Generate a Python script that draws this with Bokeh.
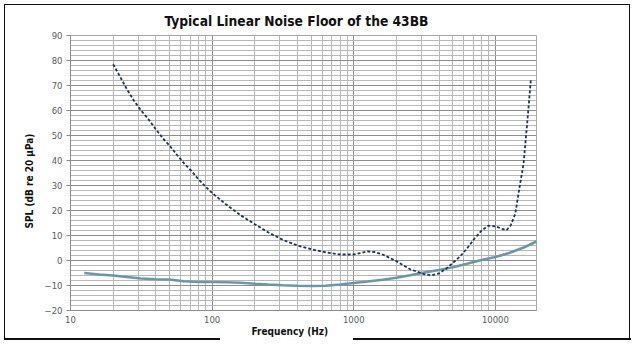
from bokeh.plotting import figure
from bokeh.models import Range1d, FixedTicker, Title, NumeralTickFormatter, InlineStyleSheet
from bokeh.embed import file_html
from bokeh.resources import INLINE

# ---- data ----
freq_dashed = [20, 22.4, 25, 28, 31.5, 35.5, 40, 45, 50, 56, 63, 71, 80, 90, 100, 125, 160, 200,
               250, 315, 400, 500, 630, 800, 1000, 1120, 1250, 1400, 1600, 2000, 2500, 3150,
               3550, 4000, 4500, 5000, 5600, 6300, 7100, 8000, 8900, 10000, 11200, 12000,
               12800, 13800, 14800, 15800, 16900, 17800]
spl_dashed = [78.5, 73.5, 68.5, 64, 60, 56.5, 52.5, 48.8, 46, 42.5, 39, 36, 32.5, 29.5, 27, 22.5,
              18, 14.5, 11.2, 8.3, 6, 4.5, 3.3, 2.4, 2.4, 3, 3.6, 3.4, 2.4, -0.3, -3.5, -5.5,
              -5.9, -5.2, -3.2, -1, 1.5, 4.8, 8.7, 12, 13.9, 13.7, 12.6, 12.2,
              14, 18.6, 29.3, 38.7, 57.3, 72.4]

freq_solid = [12.5, 16, 20, 25, 31.5, 40, 50, 63, 80, 100, 125, 160, 200, 250, 315, 400, 500,
              630, 800, 1000, 1250, 1600, 2000, 2500, 3150, 4000, 5000, 6300, 8000, 10000,
              12500, 16000, 19500]
spl_solid = [-5.0, -5.6, -6.0, -6.6, -7.2, -7.5, -7.6, -8.3, -8.6, -8.6, -8.7, -8.9, -9.3, -9.6,
             -9.9, -10.1, -10.2, -10.1, -9.6, -9.0, -8.4, -7.7, -6.9, -5.9, -4.8, -3.8, -2.7,
             -1.3, 0.2, 1.4, 3.0, 5.3, 7.6]

x_major_ticks = [10, 100, 1000, 10000]
x_minor_mult = [2, 3, 4, 5, 6, 7, 8, 9]
y_major_ticks = list(range(-20, 91, 10))
y_minor_ticks = list(range(-20, 91, 2))

title_text = "Typical Linear Noise Floor of the 43BB"
x_label_text = "Frequency (Hz)"
y_label_text = "SPL (dB re 20 \u03bcPa)"

x_minor_ticks = [m * t for t in x_major_ticks for m in x_minor_mult]

# ---- figure ----
p = figure(width=639, height=352, x_axis_type="log",
           x_range=Range1d(10, 19500), y_range=Range1d(-20, 90),
           output_backend="svg", toolbar_location=None,
           min_border_left=70, min_border_right=103, min_border_top=35, min_border_bottom=42)
p.background_fill_color = "white"
p.border_fill_color = "white"
p.outline_line_color = "#a8a8a8"

# outer black frame of the picture (with the small gap in its bottom edge)
frame_css = InlineStyleSheet(css="""
:host { position: relative; }
:host::after {
  content: ""; position: absolute; left: 4px; top: 4px; width: 624px; height: 334px;
  border: 1.5px solid #111111; border-bottom: none; pointer-events: none; z-index: 50;
}
:host::before {
  content: ""; position: absolute; left: 4px; top: 338px; width: 627px; height: 1.5px;
  background: linear-gradient(to right, #111111 0px, #111111 216px, transparent 216px,
              transparent 349px, #111111 349px, #111111 627px);
  pointer-events: none; z-index: 50;
}
""")
p.stylesheets = [frame_css]

p.xaxis.ticker = FixedTicker(ticks=x_major_ticks, minor_ticks=x_minor_ticks)
p.yaxis.ticker = FixedTicker(ticks=y_major_ticks, minor_ticks=y_minor_ticks)
p.xaxis.formatter = NumeralTickFormatter(format="0")

for g in (p.xgrid, p.ygrid):
    g.grid_line_color = "#8e8e8e"
    g.grid_line_width = 1
    g.minor_grid_line_color = "#b8b8b8"
    g.minor_grid_line_width = 1

for ax in (p.xaxis, p.yaxis):
    ax.axis_line_color = "#8e8e8e"
    ax.minor_tick_line_color = None
    ax.major_label_text_font = "DejaVu Sans"
    ax.major_label_text_font_size = "8.5px"
    ax.major_label_text_color = "#5a5a5a"

p.yaxis.major_tick_line_color = "#8e8e8e"
p.yaxis.major_tick_out = 4
p.yaxis.major_tick_in = 0
p.yaxis.major_label_standoff = 4
p.xaxis.major_tick_line_color = None
p.xaxis.major_tick_out = 0
p.xaxis.major_tick_in = 0
p.xaxis.major_label_standoff = 1

p.line(freq_solid, spl_solid, line_color="#6e96a9", line_width=2.6)
p.line(freq_dashed, spl_dashed, line_color="#1e3556", line_width=1.8, line_dash="3 2")

# ---- texts ----
label_font = "DejaVu Sans Condensed"
p.title = Title(text=title_text, align="left", offset=94, standoff=14,
                text_font=label_font, text_font_style="bold", text_font_size="13.7px",
                text_color="#111111")
p.add_layout(Title(text=x_label_text, align="left", offset=181, standoff=0, vertical_align="top",
                   text_font=label_font, text_font_style="bold", text_font_size="10px",
                   text_color="#111111"), "below")
p.add_layout(Title(text=y_label_text, align="left", offset=82, standoff=14,
                   text_font=label_font, text_font_style="bold", text_font_size="10px",
                   text_color="#111111"), "left")

open("out.html", "w").write(file_html(p, INLINE))
